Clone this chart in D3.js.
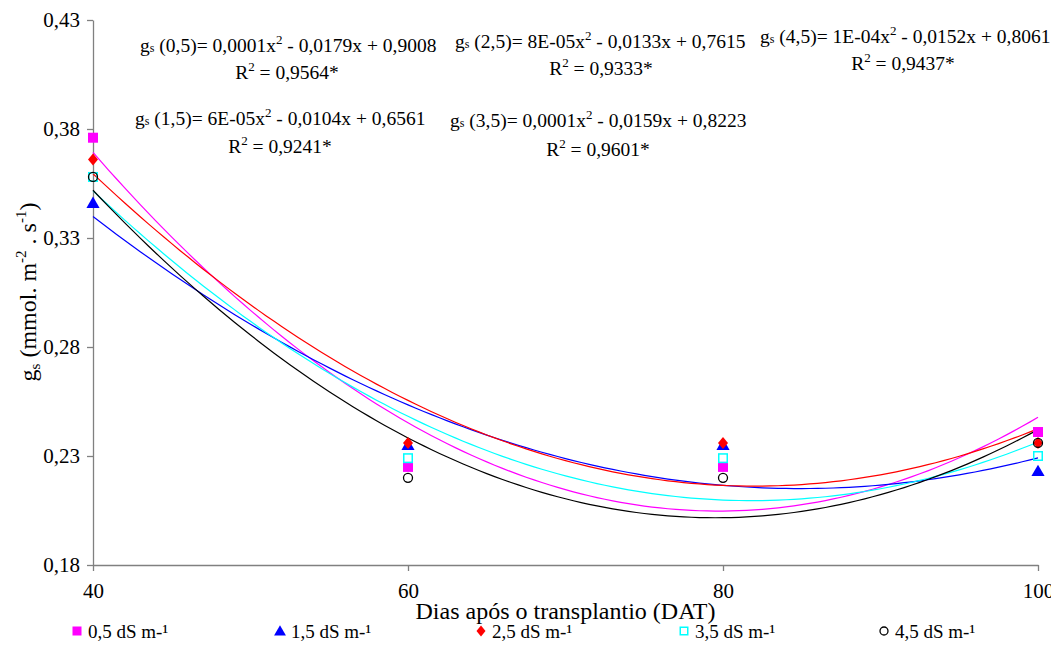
<!DOCTYPE html>
<html><head><meta charset="utf-8">
<script src="https://cdn.jsdelivr.net/npm/d3@7"></script>
<style>
body{margin:0;background:#fff}
svg{display:block}
</style>
</head><body>
<svg id="c" width="1051" height="661"></svg>
<script>
// ---- data ----
const days = [40, 60, 80, 100];
const seriesLabels = ["0,5 dS m-¹", "1,5 dS m-¹", "2,5 dS m-¹", "3,5 dS m-¹", "4,5 dS m-¹"];
const s05 = [0.376, 0.225, 0.225, 0.241];
const s15 = [0.346, 0.235, 0.235, 0.223];
const s25 = [0.366, 0.236, 0.236, 0.236];
const s35 = [0.358, 0.229, 0.229, 0.230];
const s45 = [0.358, 0.220, 0.220, 0.236];
const yTicks = [0.18, 0.23, 0.28, 0.33, 0.38, 0.43];
const xTicks = [40, 60, 80, 100];
const eqLevels = ["0,5", "1,5", "2,5", "3,5", "4,5"];
const eqA = ["0,0001", "6E-05", "8E-05", "0,0001", "1E-04"];
const eqB = ["0,0179", "0,0104", "0,0133", "0,0159", "0,0152"];
const eqC = ["0,9008", "0,6561", "0,7615", "0,8223", "0,8061"];
const eqR2 = ["0,9564*", "0,9241*", "0,9333*", "0,9601*", "0,9437*"];

const FONT = "Liberation Serif";
const colors = ["#FF00FF", "#0000FF", "#FF0000", "#00FFFF", "#000000"];
const symbols = ["square", "triangle", "diamond", "osquare", "circle"];
const allSeries = [s05, s15, s25, s35, s45];

const svg = d3.select("#c");
const x = d3.scaleLinear().domain([40, 100]).range([93, 1038]);
const y = d3.scaleLinear().domain([0.18, 0.43]).range([565, 20]);
const fmt = d => d3.format(".2f")(d).replace(".", ",");

// quadratic least squares trendline (as in the original spreadsheet trendlines)
function quadFit(xs, ys) {
  let S = [0,0,0,0,0], T = [0,0,0];
  xs.forEach((xv, i) => {
    for (let k = 0; k < 5; k++) S[k] += Math.pow(xv, k);
    for (let k = 0; k < 3; k++) T[k] += Math.pow(xv, k) * ys[i];
  });
  const M = [[S[0],S[1],S[2],T[0]],[S[1],S[2],S[3],T[1]],[S[2],S[3],S[4],T[2]]];
  for (let i = 0; i < 3; i++) {
    let p = i;
    for (let r = i+1; r < 3; r++) if (Math.abs(M[r][i]) > Math.abs(M[p][i])) p = r;
    [M[i], M[p]] = [M[p], M[i]];
    for (let r = 0; r < 3; r++) if (r !== i) {
      const f = M[r][i] / M[i][i];
      for (let c = i; c < 4; c++) M[r][c] -= f * M[i][c];
    }
  }
  const c0 = M[0][3]/M[0][0], c1 = M[1][3]/M[1][1], c2 = M[2][3]/M[2][2];
  return t => c0 + c1*t + c2*t*t;
}

// axes
const yAxis = svg.append("g").attr("transform", "translate(93,0)")
  .call(d3.axisLeft(y).tickValues(yTicks).tickSize(6).tickSizeOuter(0).tickPadding(7).tickFormat(fmt));
const xAxis = svg.append("g").attr("transform", "translate(0,565)")
  .call(d3.axisBottom(x).tickValues(xTicks).tickSize(6).tickSizeOuter(0).tickPadding(12).tickFormat(d3.format("d")));
[yAxis, xAxis].forEach(g => g.attr("font-family", FONT).attr("font-size", 21));
svg.selectAll(".tick text").attr("font-family", FONT).attr("font-size", 21).attr("fill", "#000");
svg.selectAll(".domain, .tick line").attr("stroke", "#808080").attr("stroke-width", 1.3);

// axis titles
svg.append("text").attr("x", (x(40)+x(100))/2).attr("y", 619).attr("text-anchor", "middle")
  .attr("font-family", FONT).attr("font-size", 24).text("Dias após o transplantio (DAT)");
const yt = svg.append("text").attr("transform", "translate(36,292) rotate(-90)").attr("text-anchor", "middle")
  .attr("font-family", FONT).attr("font-size", 24);
yt.append("tspan").text("g");
yt.append("tspan").attr("dy", 4).attr("font-size", 15).text("s");
yt.append("tspan").attr("dy", -4).text(" (mmol. m");
yt.append("tspan").attr("dy", -10).attr("font-size", 15).text("-2");
yt.append("tspan").attr("dy", 10).text(" . s");
yt.append("tspan").attr("dy", -10).attr("font-size", 15).text("-1");
yt.append("tspan").attr("dy", 10).text(")");

// trendlines
const line = d3.line().x(d => x(d[0])).y(d => y(d[1]));
const samples = d3.range(40, 100.01, 0.5);
allSeries.forEach((s, i) => {
  const f = quadFit(days, s);
  svg.append("path").datum(samples.map(t => [t, f(t)]))
    .attr("d", line).attr("fill", "none").attr("stroke", colors[i]).attr("stroke-width", 1.2);
});

// markers
function drawMarker(g, sym, color, cx, cy, sz) {
  if (sym === "square") g.append("rect").attr("x", cx-sz/2).attr("y", cy-sz/2).attr("width", sz).attr("height", sz).attr("fill", color);
  else if (sym === "osquare") g.append("rect").attr("x", cx-sz/2+0.75).attr("y", cy-sz/2+0.75).attr("width", sz-1.5).attr("height", sz-1.5).attr("fill", "none").attr("stroke", color).attr("stroke-width", 1.5);
  else if (sym === "triangle") g.append("path").attr("d", d3.symbol(d3.symbolTriangle, sz*sz*0.75)()).attr("transform", `translate(${cx},${cy+1})`).attr("fill", color);
  else if (sym === "diamond") g.append("path").attr("d", `M${cx},${cy-sz/2-1}L${cx+sz/2},${cy}L${cx},${cy+sz/2+1}L${cx-sz/2},${cy}Z`).attr("fill", color);
  else if (sym === "circle") g.append("circle").attr("cx", cx).attr("cy", cy).attr("r", sz/2-0.5).attr("fill", "none").attr("stroke", color).attr("stroke-width", 1.3);
}
const mg = svg.append("g");
allSeries.forEach((s, i) => {
  days.forEach((d, j) => drawMarker(mg, symbols[i], colors[i], x(d), y(s[j]), 10));
});

// equations
const eqPos = [[140, 52, 287, 79], [135, 125, 280, 153], [455, 48, 601, 75], [450, 127, 598, 156], [760, 43, 903, 70]];
eqLevels.forEach((lv, i) => {
  const [ex, ey, rx, ry] = eqPos[i];
  const t = svg.append("text").attr("x", ex).attr("y", ey).attr("font-family", FONT).attr("font-size", 19.5);
  t.append("tspan").text("g");
  t.append("tspan").attr("font-size", 12).text("s");
  t.append("tspan").text(` (${lv})= ${eqA[i]}x`);
  t.append("tspan").attr("dy", -8).attr("font-size", 13).text("2");
  t.append("tspan").attr("dy", 8).text(` - ${eqB[i]}x + ${eqC[i]}`);
  const r = svg.append("text").attr("x", rx).attr("y", ry).attr("text-anchor", "middle").attr("font-family", FONT).attr("font-size", 19.5);
  r.append("tspan").text("R");
  r.append("tspan").attr("dy", -8).attr("font-size", 13).text("2");
  r.append("tspan").attr("dy", 8).text(" = " + eqR2[i]);
});

// legend
const legX = [77, 280, 481, 684, 884];
seriesLabels.forEach((lab, i) => {
  drawMarker(svg, symbols[i], colors[i], legX[i], 631, 9);
  svg.append("text").attr("x", legX[i] + 11).attr("y", 638).attr("font-family", FONT).attr("font-size", 19).text(lab);
});
</script>
</body></html>
